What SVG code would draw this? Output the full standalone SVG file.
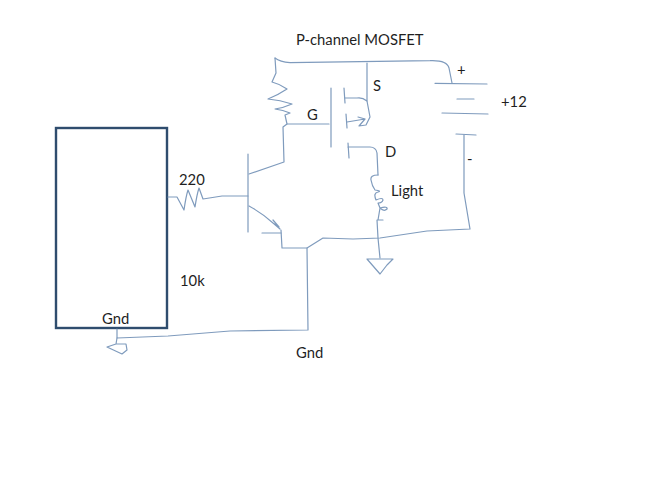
<svg xmlns="http://www.w3.org/2000/svg" width="666" height="500" viewBox="0 0 666 500">
<style>
.w{fill:none;stroke:#7f9bbd;stroke-width:1.2;stroke-linejoin:round;stroke-linecap:round}
.t{font-family:"Lato","Noto Sans",sans-serif;font-size:14.8px;fill:#1f1f1f}
</style>
<rect width="666" height="500" fill="#fff"/>
<g id="controller"><rect x="56" y="128" width="111" height="200" fill="none" stroke="#2f4d6e" stroke-width="2.4"/><text class="t" x="102" y="324">Gnd</text></g>
<g id="connectors">
<path class="w" d="M275 58Q280 62 290 62.700L430 60.700Q447 60 449 68L452 83"/>
<path class="w" d="M275 58L276 73L272 82Q280 84 287 89Q278 95 268 99Q280 100 292 104Q283 108 275 109Q283 110 290 113L285 115L287 124L283 127L284 162L249 174"/>
<path class="w" d="M287 124H329"/>
<path class="w" d="M367 63L367 101Q362 97 357 98H345"/>
<path class="w" d="M347 122L365 119L358 117M365 119L359 126L366 125L370 117L367 101"/>
<path class="w" d="M348 147H370Q376 147 377 153L378 175"/>
<path class="w" d="M378 175Q370 175 371 180Q372 186 375 190Q382 191 378 192Q373 193 376 200Q383 197 383 200Q382 203 378 203L380 208Q388 206 387 209Q384 212 380 208L378 220H383H377L378 238L380 258"/>
<path class="w" d="M464 135V193L470 229L427 231L380 238L353 239L323 238L307 248H282L281 230"/>
<path class="w" d="M168 197H177L184 210Q186 196 188 190L195 207Q197 194 199 188L203 199L222 196H248"/>
<path class="w" d="M249 206Q262 213 273 223L280 229M273 220L279 227L273 223M262 233H281"/>
<path class="w" d="M307 248L308 330L230 331L168 336L117 338V329"/>
</g>
<g id="mosfet">
<path class="w" d="M331 88V147M344 88L345 103M346 114L347 128M348 143L349 158"/>
</g>
<g id="transistor"><path class="w" d="M248 154V232"/></g>
<g id="battery"><path class="w" d="M435 83.300L487 84M457 99H474M442 113L488 114M456 134L476 135"/></g>
<g id="ground-light"><path class="w" d="M367 259H393L387 265L380 274Z"/></g>
<g id="ground-left"><path class="w" d="M117 338L116 344L107 347L122 354L127 350L126 344L116 344"/></g>
<text class="t" x="296" y="45">P-channel MOSFET</text>
<text class="t" x="373" y="91">S</text>
<text class="t" x="307" y="120">G</text>
<text class="t" x="385" y="157">D</text>
<text class="t" x="391" y="196">Light</text>
<text class="t" x="179" y="185">220</text>
<text class="t" x="180" y="286">10k</text>
<text class="t" x="296" y="358">Gnd</text>
<text class="t" x="457" y="75">+</text>
<text class="t" x="501" y="107">+12</text>
<text class="t" x="467" y="164">-</text>
</svg>
